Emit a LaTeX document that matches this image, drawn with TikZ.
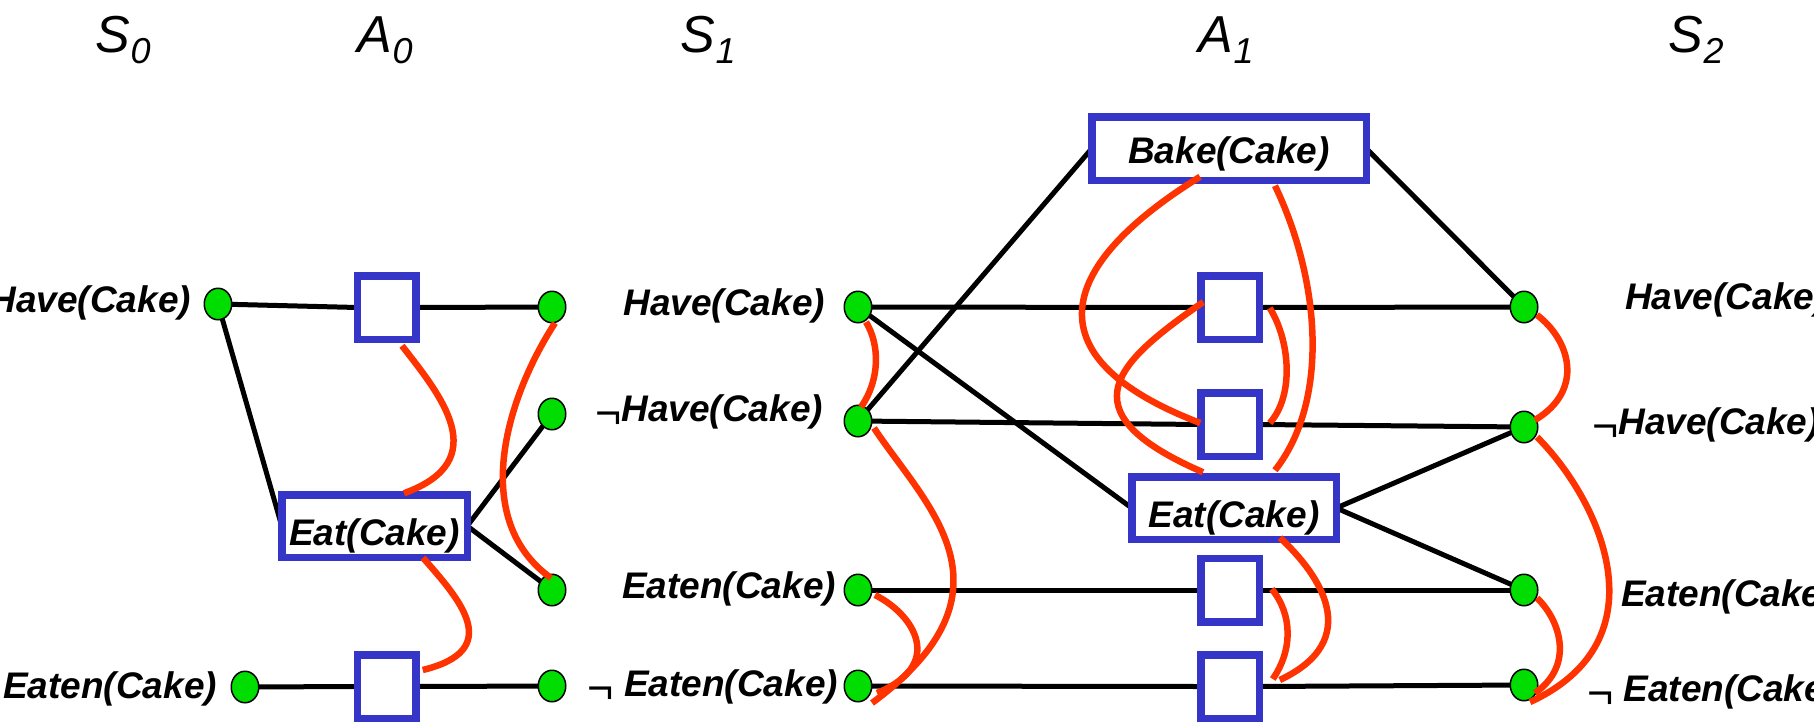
\documentclass[tikz,border=0pt]{standalone}
\usepackage{fontspec}
\setmainfont{Liberation Sans}
\usetikzlibrary{shapes.geometric}
\definecolor{boxblue}{RGB}{53,53,200}
\definecolor{dotgreen}{RGB}{0,221,0}
\definecolor{mutexred}{RGB}{255,51,0}
\pgfdeclarelayer{links}
\pgfsetlayers{links,main}
% logical "not" sign set in the regular weight, a little larger and sitting low
\newcommand\notsign{{\fontsize{45}{45}\fontseries{m}\fontshape{n}\selectfont\raisebox{-0.16em}{¬}}}
\newcommand\lvl[2]{#1\kern1pt\raisebox{-11pt}{\fontsize{36}{36}\selectfont #2}}
\tikzset{
  every node/.style={inner sep=0pt, outer sep=0pt},
  ttl/.style={anchor=base west, font=\fontsize{52}{56}\selectfont\itshape},
  lab/.style={font=\fontsize{37}{40}\selectfont\bfseries\itshape},
  fact/.style={ellipse, draw=black, line width=1.5pt, fill=dotgreen,
    minimum width=27.5pt, minimum height=31.5pt},
  noop/.style={draw=boxblue, line width=7.5pt, fill=white,
    minimum width=58.5pt, minimum height=63.5pt},
  act/.style={draw=boxblue, line width=7.5pt, fill=white,
    font=\fontsize{37}{40}\selectfont\bfseries\itshape,
    minimum height=62.5pt, text height=46pt, text depth=8pt},
  link/.style={draw=black, line width=5pt},
  mutex/.style={draw=mutexred, line width=6.5pt},
}
\begin{document}
\begin{tikzpicture}[x=1pt,y=-1pt]
\useasboundingbox (0,0) rectangle (1814,723);
\clip (0,0) rectangle (1814,723);

% level headings
\node[ttl] (tS0) at (95,52)   {\lvl{S}{0}};
\node[ttl] (tA0) at (357,52)  {\lvl{A}{0}};
\node[ttl] (tS1) at (680,52)  {\lvl{S}{1}};
\node[ttl] (tA1) at (1198,52) {\lvl{A}{1}};
\node[ttl] (tS2) at (1668,52) {\lvl{S}{2}};

% state level S0
\node[fact] (s0hv) at (218,304) {};
\node[fact] (s0en) at (245,687) {};
\node[lab, anchor=east] (l0hv) at (191,303) {Have(Cake)};
\node[lab, anchor=east] (l0en) at (217,689) {Eaten(Cake)};

% action level A0
\node[noop] (a0hv) at (386.5,307.5) {};
\node[act, minimum width=185.5pt] (a0eat) at (374.5,526) {Eat(Cake)};
\node[noop] (a0en) at (386.5,686.5) {};

% state level S1 (results of A0, then preconditions of A1)
\node[fact] (s1lhv)  at (552,307) {};
\node[fact] (s1lnhv) at (552,414) {};
\node[fact] (s1len)  at (552,590) {};
\node[fact] (s1lnen) at (552,686) {};
\node[lab, anchor=east] (l1hv)  at (825,306) {Have(Cake)};
\node[lab, anchor=east] (l1nhv) at (823,412) {\notsign Have(Cake)};
\node[lab, anchor=east] (l1en)  at (836,589) {Eaten(Cake)};
\node[lab, anchor=east] (l1nen) at (838,687) {\notsign\ Eaten(Cake)};
\node[fact] (s1rhv)  at (858,307) {};
\node[fact] (s1rnhv) at (858,421) {};
\node[fact] (s1ren)  at (858,590) {};
\node[fact] (s1rnen) at (858,686) {};

% action level A1
\node[act, minimum width=274.5pt, minimum height=63.5pt, text height=37pt]
  (bake) at (1229,148.5) {Bake(Cake)};
\node[noop] (a1hv)  at (1230,307.5) {};
\node[noop] (a1nhv) at (1230,424.5) {};
\node[act, minimum width=204.5pt] (a1eat) at (1234,508) {Eat(Cake)};
\node[noop] (a1en)  at (1230,590) {};
\node[noop] (a1nen) at (1230,686.5) {};

% state level S2
\node[fact] (s2hv)  at (1524,307) {};
\node[fact] (s2nhv) at (1524,427) {};
\node[fact] (s2en)  at (1524,590) {};
\node[fact] (s2nen) at (1524,685) {};
\node[lab, anchor=west] (l2hv)  at (1625,300) {Have(Cake)};
\node[lab, anchor=west] (l2nhv) at (1592,425) {\notsign Have(Cake)};
\node[lab, anchor=west] (l2en)  at (1621,597) {Eaten(Cake)};
\node[lab, anchor=west] (l2nen) at (1587,692) {\notsign\ Eaten(Cake)};

% precondition and effect links
\begin{pgfonlayer}{links}
  \draw[link] (s0hv) -- (a0hv.west);
  \draw[link] (s0hv) -- (a0eat.west);
  \draw[link] (a0hv.east) -- (s1lhv);
  \draw[link] (a0eat.east) -- (s1lnhv);
  \draw[link] (a0eat.east) -- (s1len);
  \draw[link] (s0en) -- (a0en.west);
  \draw[link] (a0en.east) -- (s1lnen);

  \draw[link] (s1rhv) -- (a1hv.west);
  \draw[link] (a1hv.east) -- (s2hv);
  \draw[link] (s1rhv) -- (a1eat.west);
  \draw[link] (s1rnhv) -- (bake.west);
  \draw[link] (bake.east) -- (s2hv);
  \draw[link] (s1rnhv) -- (a1nhv.west);
  \draw[link] (a1nhv.east) -- (s2nhv);
  \draw[link] (a1eat.east) -- (s2nhv);
  \draw[link] (a1eat.east) -- (s2en);
  \draw[link] (s1ren) -- (a1en.west);
  \draw[link] (a1en.east) -- (s2en);
  \draw[link] (s1rnen) -- (a1nen.west);
  \draw[link] (a1nen.east) -- (s2nen);
\end{pgfonlayer}

% mutual exclusion links, level 0
\draw[mutex] ([shift={(15.5,6.5)}]a0hv.south) .. controls +(38,49) and +(91,-33) .. ([shift={(29.5,-1.5)}]a0eat.north);
\draw[mutex] ([shift={(48.5,0.5)}]a0eat.south) .. controls +(37,42) and +(82,-20) .. ([shift={(7,-16.5)}]a0en.east);
\draw[mutex] ([shift={(3,16)}]s1lhv.center) .. controls +(-50,77) and +(-81,-58) .. ([shift={(-1,-12)}]s1len.center);

% mutual exclusion links, level 1
\draw[mutex] ([shift={(8,15)}]s1rhv.center) .. controls +(14,23) and +(19,-27) .. ([shift={(3,-14)}]s1rnhv.center);
\draw[mutex] ([shift={(16,7)}]s1rnhv.center) .. controls +(51,77) and +(153,-113) .. ([shift={(14,17)}]s1rnen.center);
\draw[mutex] ([shift={(17,5)}]s1ren.center) .. controls +(40,20) and +(68,-28) .. ([shift={(19,7)}]s1rnen.center);

\draw[mutex] ([shift={(-29,-3.5)}]bake.south) .. controls +(-150,93) and +(-165,-63) .. ([shift={(-0.5,-1.5)}]a1nhv.west);
\draw[mutex] ([shift={(2.5,-5.5)}]a1hv.west) .. controls +(-83,58) and +(-143,-62) .. ([shift={(-31,-4.5)}]a1eat.north);
\draw[mutex] ([shift={(46,5.5)}]bake.south) .. controls +(45,94) and +(55,-70) .. ([shift={(41,-6.5)}]a1eat.north);
\draw[mutex] ([shift={(10.5,0.5)}]a1hv.east) .. controls +(20,32) and +(25,-28) .. ([shift={(10.5,-1.5)}]a1nhv.east);
\draw[mutex] ([shift={(46,-1.5)}]a1eat.south) .. controls +(40,37) and +(85,-40) .. ([shift={(20.5,-6.5)}]a1nen.east);
\draw[mutex] ([shift={(12.5,-1)}]a1en.east) .. controls +(21,26) and +(20,-29) .. ([shift={(13.5,-7.5)}]a1nen.east);

% mutual exclusion links, level 2
\draw[mutex] ([shift={(13,8)}]s2hv.center) .. controls +(33,25) and +(50,-30) .. ([shift={(11,-7)}]s2nhv.center);
\draw[mutex] ([shift={(13,10)}]s2nhv.center) .. controls +(63,63) and +(135,-62) .. ([shift={(6,17)}]s2nen.center);
\draw[mutex] ([shift={(13,8)}]s2en.center) .. controls +(23,22) and +(40,-28) .. ([shift={(11,8)}]s2nen.center);
\end{tikzpicture}
\end{document}
